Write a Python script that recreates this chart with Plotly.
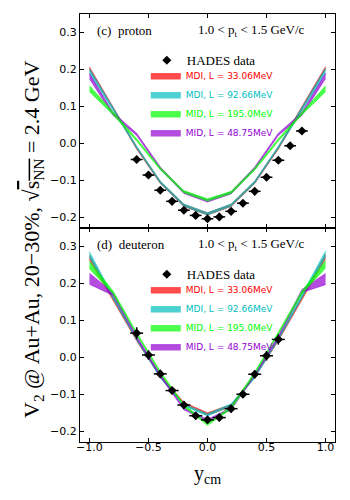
"""v2 vs rapidity for protons and deuterons (HADES 20-30%), model bands vs data."""
import plotly.graph_objects as go
from plotly.subplots import make_subplots

# --- data ---
Y_MODEL = [-1.0, -0.8, -0.6, -0.4, -0.2, 0.0, 0.2, 0.4, 0.6, 0.8, 1.0]

# proton bands (centre, half width)
P_MDI33 = [0.203, 0.097, -0.012, -0.105, -0.167, -0.190, -0.167, -0.105, -0.012, 0.097, 0.204]
P_MDI33_HW = [0.004, 0.003, 0.003, 0.003, 0.003, 0.003, 0.003, 0.003, 0.003, 0.003, 0.004]
P_MDI92 = [0.196, 0.094, -0.010, -0.104, -0.166, -0.190, -0.166, -0.104, -0.010, 0.094, 0.197]
P_MDI92_HW = [0.007, 0.004, 0.003, 0.003, 0.003, 0.003, 0.003, 0.003, 0.003, 0.004, 0.007]
P_MID195 = [0.148, 0.082, 0.010, -0.068, -0.130, -0.152, -0.132, -0.069, 0.010, 0.082, 0.148]
P_MID195_HW = [0.008, 0.004, 0.003, 0.003, 0.003, 0.003, 0.003, 0.003, 0.003, 0.004, 0.008]
P_MID48 = [0.182, 0.080, 0.025, -0.066, -0.132, -0.155, -0.133, -0.066, 0.025, 0.080, 0.183]
P_MID48_HW = [0.007, 0.004, 0.003, 0.003, 0.003, 0.003, 0.003, 0.003, 0.003, 0.004, 0.007]

# deuteron bands (centre, half width)
D_MDI33 = [0.270, 0.158, 0.048, -0.050, -0.124, -0.152, -0.130, -0.050, 0.048, 0.160, 0.273]
D_MDI33_HW = [0.006, 0.004, 0.003, 0.003, 0.003, 0.003, 0.003, 0.003, 0.003, 0.004, 0.006]
D_MDI92 = [0.278, 0.162, 0.050, -0.052, -0.128, -0.155, -0.128, -0.052, 0.050, 0.165, 0.280]
D_MDI92_HW = [0.008, 0.004, 0.003, 0.003, 0.003, 0.003, 0.003, 0.003, 0.003, 0.004, 0.008]
D_MID195 = [0.250, 0.176, 0.065, -0.040, -0.130, -0.180, -0.136, -0.042, 0.066, 0.176, 0.252]
D_MID195_HW = [0.010, 0.004, 0.003, 0.003, 0.003, 0.003, 0.003, 0.003, 0.003, 0.004, 0.010]
D_MID48 = [0.213, 0.172, 0.055, -0.048, -0.138, -0.170, -0.138, -0.046, 0.056, 0.180, 0.212]
D_MID48_HW = [0.015, 0.004, 0.003, 0.003, 0.003, 0.003, 0.003, 0.003, 0.003, 0.004, 0.015]

# HADES data
P_Y = [-0.6, -0.5, -0.4, -0.3, -0.2, -0.1, 0.0, 0.1, 0.2, 0.3, 0.4, 0.5, 0.6, 0.7, 0.8]
P_V2 = [-0.043, -0.085, -0.126, -0.156, -0.180, -0.194, -0.203, -0.198, -0.183,
        -0.161, -0.129, -0.091, -0.045, -0.006, 0.034]
P_V2_ERR = [0.006] * len(P_Y)
P_Y_ERR = [0.05] * len(P_Y)

D_Y = [-0.6, -0.5, -0.4, -0.3, -0.2, -0.1, 0.0, 0.1, 0.2, 0.3, 0.4, 0.5, 0.6]
D_V2 = [0.066, 0.007, -0.044, -0.089, -0.128, -0.157, -0.168, -0.162, -0.138,
        -0.099, -0.045, 0.005, 0.049]
D_V2_ERR = [0.016, 0.013, 0.011, 0.010, 0.010, 0.010, 0.010, 0.010, 0.010, 0.010, 0.011, 0.013, 0.014]
D_Y_ERR = [0.055] * len(D_Y)

BANDS = [
    # label, rgb, proton band, deuteron band, legend rank (draw order = list order)
    ("MDI, L = 33.06MeV", (255, 0, 0), (P_MDI33, P_MDI33_HW), (D_MDI33, D_MDI33_HW), 1),
    ("MDI, L = 92.66MeV", (0, 191, 191), (P_MDI92, P_MDI92_HW), (D_MDI92, D_MDI92_HW), 2),
    ("MID, L = 48.75MeV", (148, 0, 211), (P_MID48, P_MID48_HW), (D_MID48, D_MID48_HW), 4),
    ("MID, L = 195.0MeV", (0, 255, 0), (P_MID195, P_MID195_HW), (D_MID195, D_MID195_HW), 3),
]

SERIF = "Liberation Serif"
SANS = "DejaVu Sans"

fig = make_subplots(rows=2, cols=1, shared_xaxes=True, vertical_spacing=0)

panels = [
    (1, "legend", "legend2", P_Y, P_V2, P_Y_ERR, P_V2_ERR),
    (2, "legend3", "legend4", D_Y, D_V2, D_Y_ERR, D_V2_ERR),
]

for row, leg_data, leg_band, xs, ys, xe, ye in panels:
    for label, rgb, p_band, d_band, rank in BANDS:
        centre, hw = p_band if row == 1 else d_band
        lo = [c - h for c, h in zip(centre, hw)]
        hi = [c + h for c, h in zip(centre, hw)]
        edge = "rgba(%d,%d,%d,0.85)" % rgb
        fill = "rgba(%d,%d,%d,0.7)" % rgb
        fig.add_trace(go.Scatter(x=Y_MODEL, y=lo, mode="lines",
                                 line=dict(color=edge, width=0.6),
                                 showlegend=False, hoverinfo="skip"), row=row, col=1)
        fig.add_trace(go.Scatter(x=Y_MODEL, y=hi, mode="lines", fill="tonexty",
                                 fillcolor=fill, line=dict(color=edge, width=0.6),
                                 name="<span style='color:rgb(%d,%d,%d)'>%s</span>" % (rgb + (label,)),
                                 legend=leg_band, legendrank=rank), row=row, col=1)
    fig.add_trace(go.Scatter(x=xs, y=ys, mode="markers",
                             marker=dict(symbol="diamond", size=7, color="black"),
                             error_x=dict(type="data", array=xe, color="black", thickness=1.5, width=0),
                             error_y=dict(type="data", array=ye, color="black", thickness=1.5, width=0),
                             name="HADES data", legend=leg_data), row=row, col=1)

fig.update_xaxes(range=[-1.08, 1.08], ticks="inside", ticklen=4, tickwidth=1,
                 mirror="ticks", showline=True, linecolor="black", linewidth=1,
                 showgrid=False, zeroline=False, tickcolor="black", automargin=False,
                 tickvals=[-1.0, -0.5, 0.0, 0.5, 1.0], tickformat=".1f",
                 ticklabelstandoff=-5,
                 tickfont=dict(family=SANS, size=11, color="black"))
fig.update_yaxes(range=[-0.228, 0.35], ticks="inside", ticklen=4, tickwidth=1,
                 mirror="ticks", showline=True, linecolor="black", linewidth=1,
                 showgrid=False, zeroline=False, tickcolor="black", automargin=False,
                 tickvals=[-0.2, -0.1, 0.0, 0.1, 0.2, 0.3], tickformat=".1f",
                 tickfont=dict(family=SANS, size=11, color="black"))

annotations = []
for xref, yref, tag in [("x domain", "y domain", "(c)  proton"),
                        ("x2 domain", "y2 domain", "(d)  deuteron")]:
    annotations.append(dict(text=tag, xref=xref, yref=yref, x=0.06, y=0.925,
                            xanchor="left", yanchor="middle", showarrow=False,
                            font=dict(family=SERIF, size=13, color="black")))
    annotations.append(dict(text="1.0 < p<sub>t</sub> < 1.5 GeV/c", xref=xref, yref=yref,
                            x=0.455, y=0.925, xanchor="left", yanchor="middle",
                            showarrow=False, font=dict(family=SERIF, size=13, color="black")))
annotations.append(dict(text="V<sub>2</sub> @ Au+Au, 20\u221230%, \u221a"
                             "<span style='text-decoration:overline'>s<sub>NN</sub></span> = 2.4 GeV",
                        xref="paper", yref="paper", x=0, y=0.472, xshift=-47,
                        textangle=-90, xanchor="center", yanchor="middle", showarrow=False,
                        font=dict(family=SERIF, size=22, color="black")))
annotations.append(dict(text="y<sub>cm</sub>", xref="paper", yref="paper", x=0.5, y=0,
                        yshift=-18, xanchor="center", yanchor="top", showarrow=False,
                        font=dict(family=SERIF, size=20, color="black")))

leg_data = dict(xanchor="left", yanchor="top", bgcolor="rgba(0,0,0,0)", traceorder="normal",
                font=dict(family=SERIF, size=13, color="black"), itemwidth=30)
leg_band = dict(xanchor="left", yanchor="top", bgcolor="rgba(0,0,0,0)", traceorder="normal",
                font=dict(family=SANS, size=9, color="black"), itemwidth=30, tracegroupgap=0)

fig.update_layout(
    width=350, height=500,
    margin=dict(l=80, r=15, t=14, b=58),
    plot_bgcolor="white", paper_bgcolor="white",
    annotations=annotations,
    legend=dict(x=0.262, y=0.927, **leg_data),
    legend2=dict(x=0.258, y=0.89, **leg_band),
    legend3=dict(x=0.262, y=0.427, **leg_data),
    legend4=dict(x=0.258, y=0.39, **leg_band),
)

# the page body has a default 8px margin; drop it so the figure sits at the corner
fig.write_html("out.html", config={"displayModeBar": False},
               post_script="document.body.style.margin='0';")
